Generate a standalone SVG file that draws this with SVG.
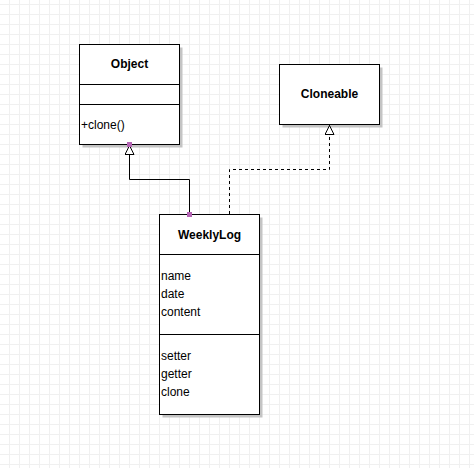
<svg xmlns="http://www.w3.org/2000/svg" width="474" height="468" viewBox="0 0 474 468">
<style>
.box{fill:#ffffff;stroke:#000000;stroke-width:1}
.shadow{fill:#c4c4c4}
.div{stroke:#000000;stroke-width:1}
.title{font-family:"Liberation Sans",Arial,sans-serif;font-size:12px;font-weight:bold;fill:#000000;text-anchor:middle}
.txt{font-family:"Liberation Sans",Arial,sans-serif;font-size:12px;fill:#000000}
.edge{fill:none;stroke:#000000;stroke-width:1}
.dash{stroke-dasharray:3 3}
.pt{fill:#b464b4}
</style>
<defs>
<pattern id="grid" x="0" y="0" width="10" height="10" patternUnits="userSpaceOnUse">
<path d="M9.5 0V10M0 4.5H10" stroke="#f0f0f0" stroke-width="1" fill="none"/>
</pattern>
<marker id="tri" viewBox="0 0 10 10" refX="10" refY="5" markerWidth="10" markerHeight="10" markerUnits="userSpaceOnUse" orient="auto">
<path d="M0.5,0.5 L9.5,5 L0.5,9.5 Z" fill="#ffffff" stroke="#000000" stroke-width="1"/>
</marker>
</defs>
<rect x="0" y="0" width="474" height="468" fill="#ffffff"/>
<rect x="0" y="0" width="474" height="468" fill="url(#grid)"/>
<g id="node-object">
<rect class="shadow" x="82.5" y="47.5" width="100" height="100"/>
<rect class="box" x="79.5" y="44.5" width="100" height="100"/>
<line class="div" x1="79.5" y1="84.5" x2="179.5" y2="84.5"/>
<line class="div" x1="79.5" y1="104.5" x2="179.5" y2="104.5"/>
<text class="title" x="129.5" y="68">Object</text>
<text class="txt" x="81" y="129">+clone()</text>
</g>
<g id="node-cloneable">
<rect class="shadow" x="282.5" y="67.5" width="100" height="60"/>
<rect class="box" x="279.5" y="64.5" width="100" height="60"/>
<text class="title" x="329.5" y="98">Cloneable</text>
</g>
<g id="node-weeklylog">
<rect class="shadow" x="162.5" y="217.5" width="100" height="200"/>
<rect class="box" x="159.5" y="214.5" width="100" height="200"/>
<line class="div" x1="159.5" y1="254.5" x2="259.5" y2="254.5"/>
<line class="div" x1="159.5" y1="334.5" x2="259.5" y2="334.5"/>
<text class="title" x="209.5" y="239">WeeklyLog</text>
<text class="txt" x="161" y="280">name</text>
<text class="txt" x="161" y="298">date</text>
<text class="txt" x="161" y="316">content</text>
<text class="txt" x="161" y="360">setter</text>
<text class="txt" x="161" y="378">getter</text>
<text class="txt" x="161" y="396">clone</text>
</g>
<g id="connectors">
<polyline class="edge" points="189.5,214.5 189.5,179.5 129.5,179.5 129.5,145" marker-end="url(#tri)"/>
<polyline class="edge dash" points="229.5,214 229.5,169.5 329.5,169.5 329.5,125" marker-end="url(#tri)"/>
<rect class="pt" x="127" y="142" width="5" height="5"/>
<rect class="pt" x="187" y="212" width="5" height="5"/>
</g>
</svg>
